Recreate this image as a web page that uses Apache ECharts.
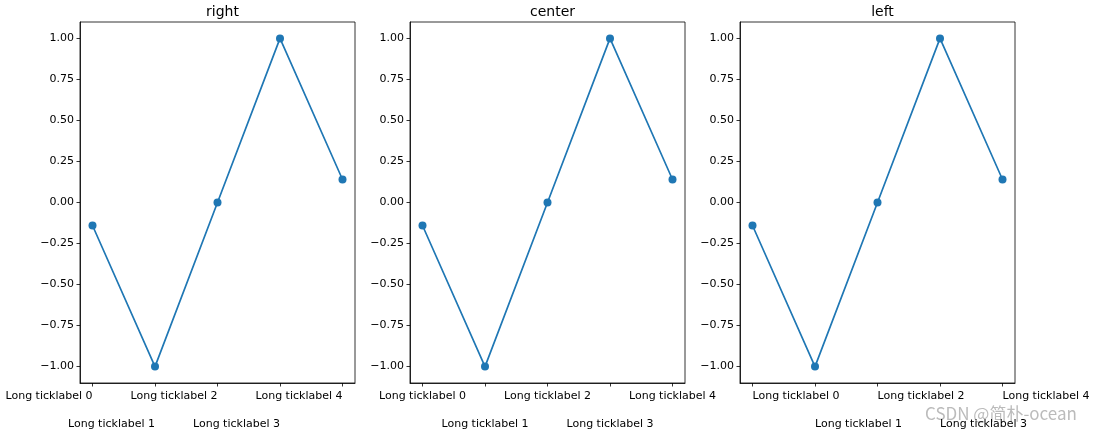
<!DOCTYPE html>
<html>
<head>
<meta charset="utf-8">
<script src="https://cdn.jsdelivr.net/npm/echarts@6/dist/echarts.min.js"></script>
<style>html,body{margin:0;padding:0;background:#fff;}#c{width:1095px;height:433px;}</style>
</head>
<body>
<div id="c"></div>
<script>
const xValues = [0, 1, 2, 3, 4];
const yValues = [-0.14, -1.0, 0.0, 1.0, 0.14];
const tickLabels = ['Long ticklabel 0', 'Long ticklabel 1', 'Long ticklabel 2', 'Long ticklabel 3', 'Long ticklabel 4'];
const yTicks = [-1.0, -0.75, -0.5, -0.25, 0.0, 0.25, 0.5, 0.75, 1.0];
const titles = ['right', 'center', 'left'];

const FONT = 'DejaVu Sans';
const lefts = [80, 410, 740];
const evenX = xValues.filter(v => v % 2 === 0);
const oddX = xValues.filter(v => v % 2 === 1);
const chart = echarts.init(document.getElementById('c'), null, {renderer: 'canvas'});
const grids = [], xAxes = [], yAxes = [], series = [], titleOpts = [];
const pts = xValues.map((x, i) => [x, yValues[i]]);
function lbl(v) { return tickLabels[Math.round(v)]; }
titles.forEach((t, k) => {
  grids.push({left: lefts[k], top: 22, width: 275, height: 361, show: true, borderColor: '#000', borderWidth: 0.8, backgroundColor: 'transparent', containLabel: false});
  titleOpts.push({text: t, left: lefts[k] + 137.5, top: 0, textAlign: 'center',
    textStyle: {fontFamily: FONT, fontSize: 14, fontWeight: 'normal', color: '#000'}});
  xAxes.push({type: 'value', gridIndex: k, position: 'bottom', min: -0.2, max: 4.2,
    splitLine: {show: false},
    axisLine: {show: true, onZero: false, lineStyle: {color: '#000', width: 0.8}},
    axisTick: {show: true, length: 3.5, lineStyle: {color: '#000', width: 0.8}, customValues: xValues},
    axisLabel: {customValues: evenX, showMinLabel: true, showMaxLabel: true, hideOverlap: false,
      margin: 8, fontFamily: FONT, fontSize: 11, color: '#000', align: t, verticalAlign: 'top',
      formatter: lbl}
  });
  xAxes.push({type: 'value', gridIndex: k, position: 'bottom', offset: 0, min: -0.2, max: 4.2,
    splitLine: {show: false},
    axisLine: {show: false, onZero: false},
    axisTick: {show: false},
    axisLabel: {customValues: oddX, showMinLabel: true, showMaxLabel: true, hideOverlap: false,
      margin: 36, fontFamily: FONT, fontSize: 11, color: '#000', align: t, verticalAlign: 'top',
      formatter: lbl}
  });
  yAxes.push({type: 'value', gridIndex: k, min: -1.1, max: 1.1,
    splitLine: {show: false},
    axisLine: {show: true, onZero: false, lineStyle: {color: '#000', width: 0.8}},
    axisTick: {show: true, length: 3.5, lineStyle: {color: '#000', width: 0.8}, customValues: yTicks},
    axisLabel: {customValues: yTicks, showMinLabel: true, showMaxLabel: true,
      margin: 6, fontFamily: FONT, fontSize: 11, color: '#000',
      formatter: function (v) { return v.toFixed(2).replace('-', '\u2212'); }}
  });
  series.push({type: 'line', xAxisIndex: 2 * k, yAxisIndex: k, data: pts,
    symbol: 'circle', symbolSize: 8, showSymbol: true,
    lineStyle: {color: '#1f77b4', width: 1.7}, itemStyle: {color: '#1f77b4'}, animation: false});
});
chart.setOption({
  animation: false,
  title: titleOpts,
  grid: grids, xAxis: xAxes, yAxis: yAxes, series: series,
  graphic: [{type: 'text', left: 925, top: 405, silent: true,
    style: {text: 'CSDN @简朴-ocean', fontFamily: 'Noto Sans CJK SC, DejaVu Sans, sans-serif', fontSize: 17, fill: 'rgba(175,175,175,0.85)'}}]
});
</script>
</body>
</html>
